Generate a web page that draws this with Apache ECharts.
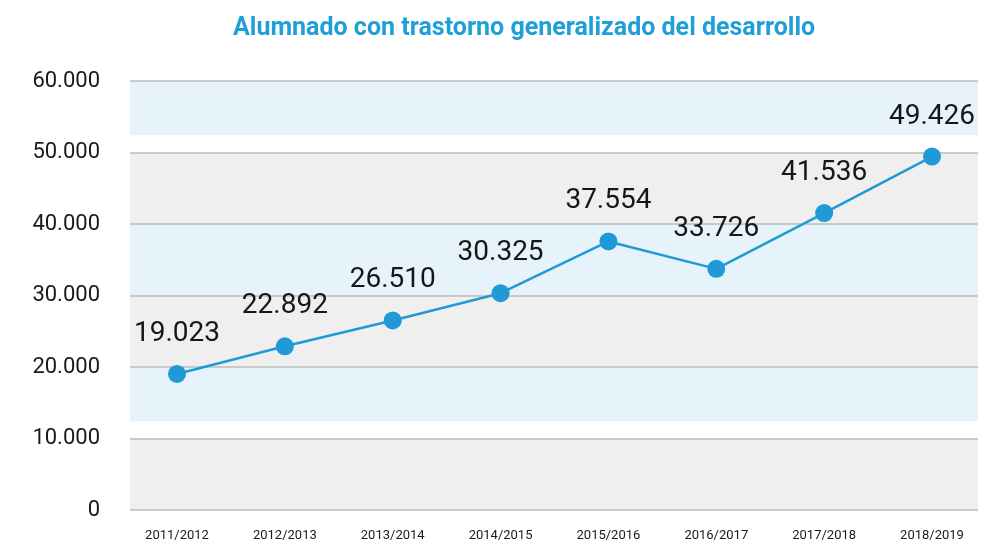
<!DOCTYPE html>
<html>
<head>
<meta charset="utf-8">
<script src="https://cdn.jsdelivr.net/npm/echarts@6/dist/echarts.min.js"></script>
<style>html,body{margin:0;padding:0;background:#fff;}#c{width:982px;height:549px;}</style>
</head>
<body>
<div id="c"></div>
<script>
var title = 'Alumnado con trastorno generalizado del desarrollo';
var categories = ['2011/2012','2012/2013','2013/2014','2014/2015','2015/2016','2016/2017','2017/2018','2018/2019'];
var values = [19023, 22892, 26510, 30325, 37554, 33726, 41536, 49426];
var yMin = 0, yMax = 60000, yStep = 10000;

function fmt(v){
  return String(Math.round(v)).replace(/\B(?=(\d{3})+(?!\d))/g, '.');
}
var hand = 'Roboto, "Noto Sans", sans-serif';
var blue = '#e6f3fb', gray = '#efefef';

var chart = echarts.init(document.getElementById('c'), null, {renderer:'canvas'});
chart.setOption({
  animation: false,
  backgroundColor: '#ffffff',
  title: {
    text: title, left: 228, top: 11,
    textStyle: {color:'#1e9fd8', fontFamily:'Roboto', fontWeight:'bold', fontSize:25}
  },
  grid: [
    {left:130, right:4, top:81, bottom:39},
    {left:177, right:50, top:81, bottom:39}
  ],
  xAxis: [
    {gridIndex:0, type:'value', min:0, max:1, show:false},
    {gridIndex:1, type:'category', data:categories, boundaryGap:false,
     axisLine:{show:false}, axisTick:{show:false}, splitLine:{show:false},
     axisLabel:{margin:19, color:'#1a1a1a', fontFamily:hand, fontSize:13}}
  ],
  yAxis: [
    {gridIndex:0, type:'value', min:yMin, max:yMax, interval:yStep, z:5,
     axisLine:{show:false}, axisTick:{show:false},
     splitLine:{show:true, lineStyle:{color:'#bdbdbd', width:1.5}},
     axisLabel:{margin:30, color:'#1a1a1a', fontFamily:hand, fontSize:22, formatter:fmt}},
    {gridIndex:1, type:'value', min:yMin, max:yMax, interval:yStep, show:false}
  ],
  series: [
    {type:'line', xAxisIndex:0, yAxisIndex:0, data:[], z:1, silent:true,
     markArea:{silent:true, label:{show:false}, data:[
       [{yAxis:60000, itemStyle:{color:blue}}, {yAxis:52400}],
       [{yAxis:50000, itemStyle:{color:gray}}, {yAxis:40000}],
       [{yAxis:40000, itemStyle:{color:blue}}, {yAxis:30000}],
       [{yAxis:30000, itemStyle:{color:gray}}, {yAxis:20000}],
       [{yAxis:20000, itemStyle:{color:blue}}, {yAxis:12400}],
       [{yAxis:10000, itemStyle:{color:gray}}, {yAxis:0}]
     ]}},
    {type:'line', xAxisIndex:1, yAxisIndex:1, data:values, z:10,
     symbol:'circle', symbolSize:18,
     lineStyle:{color:'#1f9ad6', width:2.5},
     itemStyle:{color:'#1f9ad6'},
     label:{show:true, position:'top', distance:17, formatter:function(p){return fmt(p.value);},
       color:'#161616', fontFamily:hand, fontSize:28}}
  ]
});
</script>
</body>
</html>
